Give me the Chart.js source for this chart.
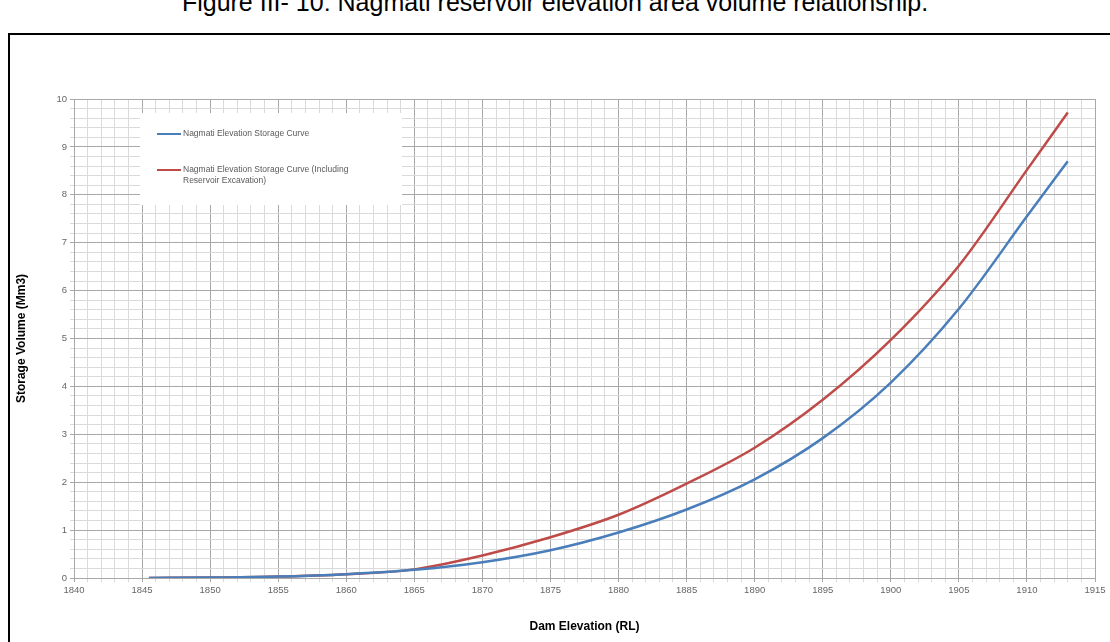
<!DOCTYPE html>
<html>
<head>
<meta charset="utf-8">
<script src="https://cdn.jsdelivr.net/npm/chart.js@4"></script>
<style>
  html, body { margin: 0; padding: 0; background: #fff; }
  body { width: 1110px; height: 642px; position: relative; overflow: hidden; }
  #title { position: absolute; left: 0; width: 1110px; top: -12px; text-align: center;
    font: 25px "Liberation Sans", Arial, sans-serif; color: #000; white-space: nowrap; }
  #frame { position: absolute; left: 8px; top: 33px; width: 1200px; height: 700px;
    border: 2px solid #000; box-sizing: border-box; }
  #myChart { position: absolute; left: 0; top: 0; }
</style>
</head>
<body>
<div id="title">Figure III- 10: Nagmati reservoir elevation area volume relationship.</div>
<div id="frame"></div>
<canvas id="myChart" width="1110" height="642"></canvas>
<script>
// elevation (RL) and storage volume (Mm3)
const elevation = [1845.5, 1850, 1855, 1860, 1865, 1870, 1875, 1880, 1885, 1890, 1895, 1900, 1905, 1910, 1913]
const storage = [0.0, 0.01, 0.03, 0.08, 0.17, 0.33, 0.58, 0.95, 1.43, 2.06, 2.92, 4.08, 5.62, 7.55, 8.7]
const storageExcav = [0.0, 0.01, 0.03, 0.08, 0.18, 0.47, 0.85, 1.32, 1.97, 2.72, 3.72, 4.97, 6.52, 8.52, 9.72]

const seriesNames = ['Nagmati Elevation Storage Curve',
  ['Nagmati Elevation Storage Curve (Including', 'Reservoir Excavation)']]
const xTitle = 'Dam Elevation (RL)'
const yTitle = 'Storage Volume (Mm3)'

const blue = '#4a7ebb'
const red = '#be4b48'
const minorGrid = '#dadada'
const majorGrid = '#a8a8a8'

const isWhole = (v, step) => Math.abs(v / step - Math.round(v / step)) < 1e-6

// legend box drawn by hand so the second label can wrap
const boxLegend = {
  id: 'boxLegend',
  afterDraw(chart) {
    const c = chart.ctx
    c.save()
    c.fillStyle = '#fff'
    c.fillRect(140, 113, 262, 92)
    c.font = '8.5px "Liberation Sans", Arial, sans-serif'
    c.textBaseline = 'middle'
    const rows = [134, 170]
    chart.data.datasets.forEach((ds, i) => {
      const y = rows[i]
      c.strokeStyle = ds.borderColor
      c.lineWidth = 2
      c.beginPath()
      c.moveTo(157, y)
      c.lineTo(181, y)
      c.stroke()
      c.fillStyle = '#595959'
      const lines = [].concat(seriesNames[i])
      lines.forEach((t, k) => c.fillText(t, 183, y + k * 11))
    })
    c.restore()
  }
}

const ctx = document.getElementById('myChart')

new Chart(ctx, {
  type: 'line',
  data: {
    datasets: [{
      label: 'Nagmati Elevation Storage Curve',
      data: elevation.map((x, i) => ({ x: x, y: storage[i] })),
      borderColor: blue,
      borderWidth: 2.5,
      pointRadius: 0,
      cubicInterpolationMode: 'monotone'
    }, {
      label: 'Nagmati Elevation Storage Curve (Including Reservoir Excavation)',
      data: elevation.map((x, i) => ({ x: x, y: storageExcav[i] })),
      borderColor: red,
      borderWidth: 2.5,
      pointRadius: 0,
      cubicInterpolationMode: 'monotone'
    }]
  },
  options: {
    responsive: false,
    animation: false,
    devicePixelRatio: 1,
    layout: { padding: { left: 12, top: 99, right: 15, bottom: 8 } },
    plugins: { legend: { display: false }, tooltip: { enabled: false } },
    scales: {
      x: {
        type: 'linear',
        min: 1840,
        max: 1915,
        afterFit: s => { s.height = 56 },
        grid: {
          color: c => isWhole(c.tick.value, 5) ? majorGrid : minorGrid,
          tickLength: 4,
          drawTicks: true
        },
        border: { color: majorGrid },
        ticks: {
          stepSize: 1,
          autoSkip: false,
          maxRotation: 0,
          color: '#666',
          font: { size: 9.5, family: 'Liberation Sans' },
          callback: v => isWhole(v, 5) ? String(v) : ''
        },
        title: {
          display: true,
          text: xTitle,
          color: '#000',
          padding: { top: 4, bottom: 0 },
          font: { size: 12, weight: 'bold', family: '"Liberation Sans Narrow", "Liberation Sans"' }
        }
      },
      y: {
        min: 0,
        max: 10,
        afterFit: s => { s.width = 62 },
        grid: {
          color: c => isWhole(c.tick.value, 1) ? majorGrid : minorGrid,
          tickLength: 4
        },
        border: { color: majorGrid },
        ticks: {
          stepSize: 0.2,
          autoSkip: false,
          color: '#666',
          font: { size: 9.5, family: 'Liberation Sans' },
          callback: v => isWhole(v, 1) ? String(Math.round(v)) : ''
        },
        title: {
          display: true,
          text: yTitle,
          color: '#000',
          padding: 2,
          font: { size: 12, weight: 'bold', family: '"Liberation Sans Narrow", "Liberation Sans"' }
        }
      }
    }
  },
  plugins: [boxLegend]
})
</script>
</body>
</html>
